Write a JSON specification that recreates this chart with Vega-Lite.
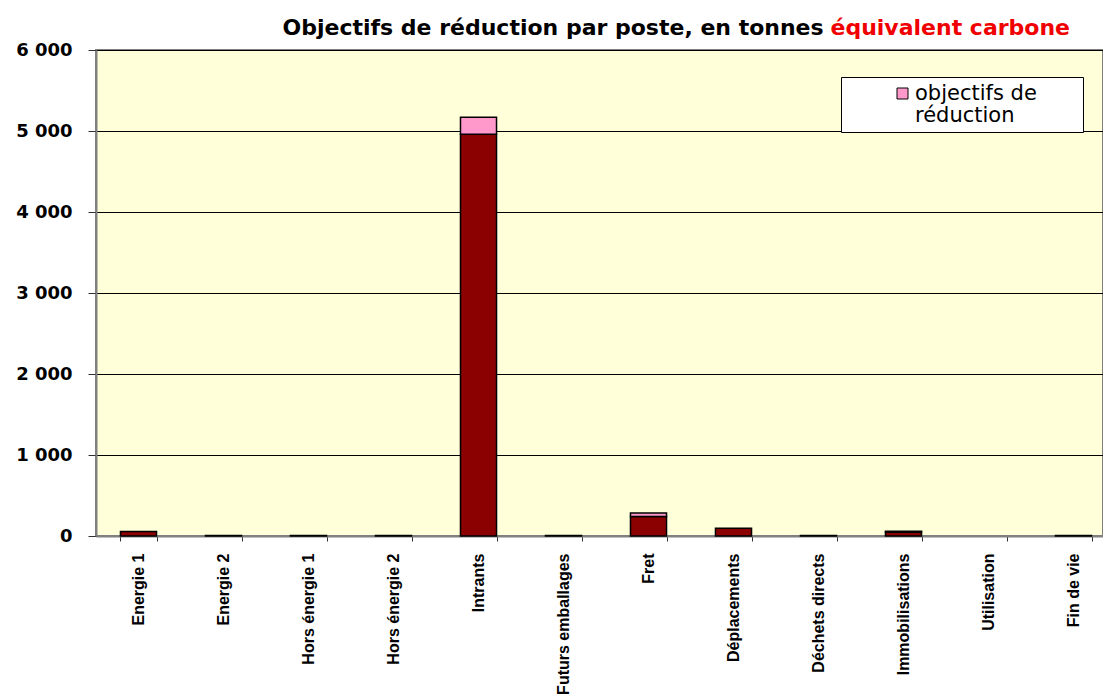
{
  "$schema": "https://vega.github.io/schema/vega-lite/v6.json",
  "width": 1007,
  "height": 486,
  "autosize": {"type": "none"},
  "padding": {"left": 96, "top": 50, "right": 0, "bottom": 164},
  "background": "white",
  "data": {
    "values": [
      {"poste": "Energie 1", "serie": "émissions après réduction", "ordre": 1, "valeur": 55},
      {"poste": "Energie 1", "serie": "objectifs de réduction", "ordre": 2, "valeur": 0},
      {"poste": "Energie 2", "serie": "émissions après réduction", "ordre": 1, "valeur": 5},
      {"poste": "Energie 2", "serie": "objectifs de réduction", "ordre": 2, "valeur": 0},
      {"poste": "Hors énergie 1", "serie": "émissions après réduction", "ordre": 1, "valeur": 5},
      {"poste": "Hors énergie 1", "serie": "objectifs de réduction", "ordre": 2, "valeur": 0},
      {"poste": "Hors énergie 2", "serie": "émissions après réduction", "ordre": 1, "valeur": 5},
      {"poste": "Hors énergie 2", "serie": "objectifs de réduction", "ordre": 2, "valeur": 0},
      {"poste": "Intrants", "serie": "émissions après réduction", "ordre": 1, "valeur": 4960},
      {"poste": "Intrants", "serie": "objectifs de réduction", "ordre": 2, "valeur": 210},
      {"poste": "Futurs emballages", "serie": "émissions après réduction", "ordre": 1, "valeur": 5},
      {"poste": "Futurs emballages", "serie": "objectifs de réduction", "ordre": 2, "valeur": 0},
      {"poste": "Fret", "serie": "émissions après réduction", "ordre": 1, "valeur": 240},
      {"poste": "Fret", "serie": "objectifs de réduction", "ordre": 2, "valeur": 45},
      {"poste": "Déplacements", "serie": "émissions après réduction", "ordre": 1, "valeur": 95},
      {"poste": "Déplacements", "serie": "objectifs de réduction", "ordre": 2, "valeur": 0},
      {"poste": "Déchets directs", "serie": "émissions après réduction", "ordre": 1, "valeur": 5},
      {"poste": "Déchets directs", "serie": "objectifs de réduction", "ordre": 2, "valeur": 0},
      {"poste": "Immobilisations", "serie": "émissions après réduction", "ordre": 1, "valeur": 50},
      {"poste": "Immobilisations", "serie": "objectifs de réduction", "ordre": 2, "valeur": 8},
      {"poste": "Utilisation", "serie": "émissions après réduction", "ordre": 1, "valeur": 0},
      {"poste": "Utilisation", "serie": "objectifs de réduction", "ordre": 2, "valeur": 0},
      {"poste": "Fin de vie", "serie": "émissions après réduction", "ordre": 1, "valeur": 5},
      {"poste": "Fin de vie", "serie": "objectifs de réduction", "ordre": 2, "valeur": 0}
    ]
  },
  "mark": {"type": "bar", "stroke": "black", "strokeWidth": 1.5},
  "encoding": {
    "x": {
      "field": "poste",
      "type": "nominal",
      "sort": null,
      "scale": {
        "domain": ["Energie 1", "Energie 2", "Hors énergie 1", "Hors énergie 2", "Intrants", "Futurs emballages", "Fret", "Déplacements", "Déchets directs", "Immobilisations", "Utilisation", "Fin de vie"],
        "range": [0, 1020],
        "paddingInner": 0.576,
        "paddingOuter": 0.288
      },
      "axis": {
        "title": "Objectifs de réduction par poste, en tonnes",
        "titleAngle": 0,
        "titleX": 186,
        "titleY": -502,
        "titleAlign": "left",
        "titleBaseline": "alphabetic",
        "titleFont": "DejaVu Sans",
        "titleFontWeight": "bold",
        "titleFontSize": 22,
        "titleColor": "black",
        "labelAngle": -90,
        "labelAlign": "right",
        "labelBaseline": "middle",
        "labelFont": "Liberation Sans",
        "labelFontWeight": "bold",
        "labelFontSize": 16,
        "labelColor": "black",
        "labelPadding": 12,
        "labelLimit": 300,
        "tickBand": "extent",
        "tickSize": 5,
        "tickColor": "#303030",
        "domainColor": "#808080",
        "domainWidth": 2,
        "grid": false
      }
    },
    "y": {
      "field": "valeur",
      "type": "quantitative",
      "stack": "zero",
      "scale": {"domain": [0, 6000], "nice": false},
      "axis": {
        "title": "équivalent carbone",
        "titleAngle": 0,
        "titleX": 734,
        "titleY": -16,
        "titleAlign": "left",
        "titleBaseline": "alphabetic",
        "titleFont": "DejaVu Sans",
        "titleFontWeight": "bold",
        "titleFontSize": 22,
        "titleColor": "#F00000",
        "values": [0, 1000, 2000, 3000, 4000, 5000, 6000],
        "labelExpr": "replace(format(datum.value, ',d'), ',', ' ')",
        "labelFont": "DejaVu Sans",
        "labelFontWeight": "bold",
        "labelFontSize": 18,
        "labelColor": "black",
        "labelPadding": 16,
        "tickSize": 8,
        "tickColor": "#303030",
        "domainColor": "#808080",
        "domainWidth": 2,
        "grid": true,
        "gridColor": "black",
        "gridWidth": 1
      }
    },
    "color": {
      "field": "serie",
      "type": "nominal",
      "scale": {
        "domain": ["émissions après réduction", "objectifs de réduction"],
        "range": ["#8B0000", "#FF99CC"]
      },
      "legend": {
        "title": null,
        "values": ["objectifs de réduction"],
        "orient": "none",
        "legendX": 745,
        "legendY": 27,
        "fillColor": "white",
        "strokeColor": "black",
        "padding": 6,
        "symbolType": "square",
        "symbolSize": 121,
        "symbolStrokeColor": "black",
        "symbolStrokeWidth": 1,
        "symbolOffset": 45,
        "labelOffset": 2,
        "labelFont": "DejaVu Sans",
        "labelFontSize": 21,
        "labelColor": "black",
        "labelLimit": 400,
        "labelExpr": "['objectifs de\u00a0\u00a0\u00a0\u00a0\u00a0\u00a0\u200b', 'réduction']"
      }
    },
    "order": {"field": "ordre", "type": "quantitative"},
    "strokeOpacity": {
      "condition": {"test": "datum.valeur > 0", "value": 1},
      "value": 0
    }
  },
  "config": {
    "view": {"stroke": "#808080", "strokeWidth": 2, "fill": "#FFFFD9"},
    "style": {"guide-label": {"lineHeight": 22}}
  }
}
